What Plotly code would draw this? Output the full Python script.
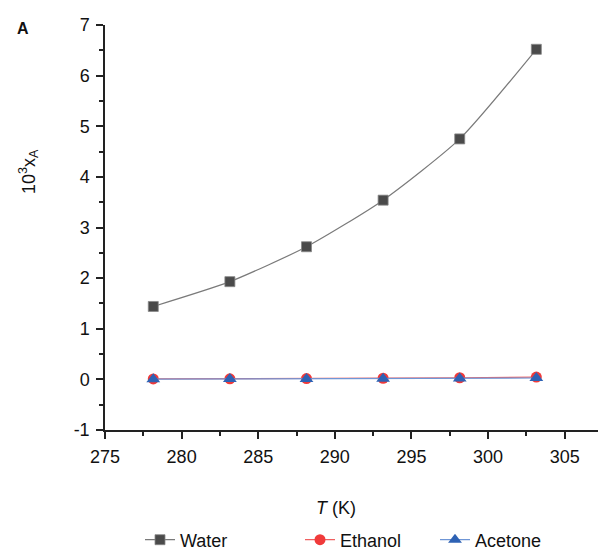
import plotly.graph_objects as go

T = [278.15, 283.15, 288.15, 293.15, 298.15, 303.15]
water = [1.44, 1.93, 2.62, 3.54, 4.75, 6.52]
ethanol = [0.008, 0.011, 0.015, 0.022, 0.032, 0.046]
acetone = [0.004, 0.006, 0.009, 0.013, 0.019, 0.027]
x_ticks = [275, 280, 285, 290, 295, 300, 305]
y_ticks = [-1, 0, 1, 2, 3, 4, 5, 6, 7]

font = "Liberation Sans, Arial, sans-serif"
fig = go.Figure()
fig.add_trace(go.Scatter(x=T, y=water, name="Water", mode="lines+markers", legend="legend",
                         line=dict(color="#7a7a7a", width=1.2, shape="spline", smoothing=0.6),
                         marker=dict(symbol="square", size=10, color="#4a4a4a",
                                     line=dict(color="#888888", width=0.8))))
fig.add_trace(go.Scatter(x=T, y=ethanol, name="Ethanol", mode="lines+markers", legend="legend2",
                         line=dict(color="#f06060", width=1.2),
                         marker=dict(symbol="circle", size=11, color="#f03a3a")))
fig.add_trace(go.Scatter(x=T, y=acetone, name="Acetone", mode="lines+markers", legend="legend3",
                         line=dict(color="#6f96d6", width=1.2),
                         marker=dict(symbol="triangle-up", size=12, color="#2e62b4")))

W, H = 598, 543
leg = dict(orientation="h", xref="container", yref="container", yanchor="middle", y=11 / H,
           xanchor="left", font=dict(size=18), bgcolor="rgba(0,0,0,0)")
fig.update_layout(
    width=W, height=H,
    margin=dict(l=97, r=3, t=17, b=121),
    paper_bgcolor="white", plot_bgcolor="white",
    font=dict(family=font, size=18, color="#111"),
    showlegend=True,
    legend=dict(leg, x=132 / W),
    legend2=dict(leg, x=292 / W),
    legend3=dict(leg, x=427 / W),
    xaxis=dict(range=[275, 307.5], tickvals=x_ticks, ticktext=[str(v) for v in x_ticks],
               showline=True, linecolor="#222", automargin=False, ticklabelstandoff=3,
               linewidth=1.5, ticks="outside", ticklen=7, tickwidth=1.5, tickcolor="#222",
               showgrid=False, zeroline=False,
               minor=dict(dtick=2.5, tick0=275, ticks="outside", ticklen=4, tickcolor="#222", tickwidth=1.5)),
    yaxis=dict(range=[-1, 7], tickvals=y_ticks, ticktext=[str(v) for v in y_ticks],
               showline=True, linecolor="#222", linewidth=1.5, automargin=False, ticklabelstandoff=3,
               ticks="outside", ticklen=7, tickwidth=1.5, tickcolor="#222",
               showgrid=False, zeroline=False,
               minor=dict(dtick=0.5, tick0=-1, ticks="outside", ticklen=4, tickcolor="#222", tickwidth=1.5)),
)
fig.add_annotation(text="<i>T</i> (K)", xref="paper", yref="paper", x=0.464, y=-0.193,
                   xanchor="center", yanchor="middle", showarrow=False, font=dict(size=18))
fig.add_annotation(text="10<sup>3</sup>x<sub>A</sub>", xref="paper", yref="paper", x=-0.1546, y=0.637,
                   xanchor="center", yanchor="middle", textangle=-90, showarrow=False, font=dict(size=18))
fig.add_annotation(text="<b>A</b>", xref="paper", yref="paper", x=-0.181, y=1.017,
                   xanchor="left", yanchor="top", showarrow=False, font=dict(size=16))
fig.write_html("out.html")
